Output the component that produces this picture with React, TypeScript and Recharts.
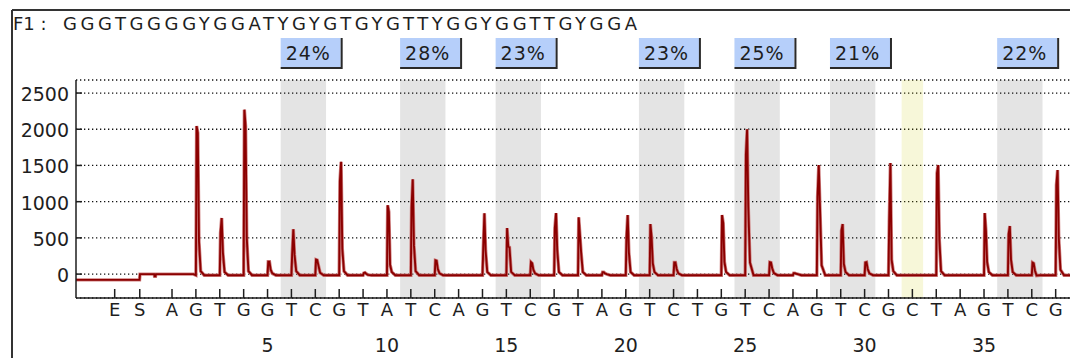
import React from "react";
import { ComposedChart, Line, XAxis, YAxis, CartesianGrid, ReferenceArea } from "recharts";

// ---------- data ----------
const titlePrefix = "F1 : ";
const sequence = "GGGTGGGGYGGATYGYGTGYGTTYGGYGGTTGYGGA";

const dispLetters = [
  "E", "S",
  "A", "G", "T", "G", "G", "T", "C", "G", "T", "A",
  "T", "C", "A", "G", "T", "C", "G", "T", "A", "G",
  "T", "C", "T", "G", "T", "C", "A", "G", "T", "C",
  "G", "C", "T", "A", "G", "T", "C", "G",
];
const dispTimes = [
  -1.4, -0.35,
  1, 2, 3, 4, 5, 6, 7, 8, 9, 10,
  11, 12, 13, 14, 15, 16, 17, 18, 19, 20,
  21, 22, 23, 24, 25, 26, 27, 28, 29, 30,
  31, 32, 33, 34, 35, 36, 37, 38,
];
const numberTicks = [5, 10, 15, 20, 25, 30, 35];
const yTicks = [0, 500, 1000, 1500, 2000, 2500];

const bandStart = [6, 11, 15, 21, 25, 29, 36];
const bandEnd = [7, 12, 16, 22, 26, 30, 37];
const bandPct = ["24%", "28%", "23%", "23%", "25%", "21%", "22%"];
const highlightDisp = [32];

// peaks: dispensation, then signal samples (rise, top, fall, tail)
const peakDisp = [2, 3, 4, 5, 6, 7, 8, 9, 10, 11, 12, 14, 15, 16, 17, 18, 19, 20, 21, 22, 24, 25, 26, 27, 28, 29, 30, 31, 33, 35, 36, 37, 38];
const peakRise = [2044, 570, 2270, 170, 265, 200, 1280, 15, 950, 915, 190, 330, 635, 166, 635, 785, 25, 500, 690, 160, 815, 1645, 165, 12, 1065, 600, 160, 720, 1395, 842, 552, 160, 1230];
const peakTop = [1950, 775, 2045, 170, 620, 195, 1550, 20, 860, 1310, 185, 840, 380, 150, 842, 540, 25, 815, 510, 160, 705, 2000, 160, 12, 1505, 690, 165, 1533, 1505, 600, 663, 150, 1436];
const peakFall = [450, 300, 500, 60, 265, 120, 350, 5, 130, 400, 70, 330, 370, 60, 330, 300, 10, 300, 150, 70, 170, 925, 80, 5, 925, 140, 70, 200, 470, 166, 200, 50, 500];
const peakTail = [40, 30, 40, 10, 40, 20, 40, -10, 30, 40, 10, 30, 30, 10, 30, 30, 0, 30, 30, 10, 30, 160, 15, 0, 120, 30, 10, 40, 40, 30, 30, -20, 60];
const baseline = -15;
const preBaseline = -80;

// ---------- build trace table ----------
const trace: { t: number; v: number }[] = [
  { t: -3.02, v: preBaseline },
  { t: -0.36, v: preBaseline },
  { t: -0.34, v: 0 },
  { t: 0.25, v: 0 },
  { t: 0.27, v: -30 },
  { t: 0.31, v: -30 },
  { t: 0.33, v: 0 },
  { t: 1.9, v: 0 },
];
peakDisp.forEach((n, i) => {
  trace.push({ t: n, v: baseline });
  trace.push({ t: n + 0.03, v: peakRise[i] });
  trace.push({ t: n + 0.08, v: peakTop[i] });
  trace.push({ t: n + 0.13, v: peakFall[i] });
  trace.push({ t: n + 0.2, v: peakTail[i] });
  trace.push({ t: n + 0.35, v: baseline });
});
trace.push({ t: 38.6, v: baseline });

const FONT = "'DejaVu Sans', Verdana, sans-serif";
const INK = "#1e1e1e";

const YTick = (props: any) => {
  const { x, y, payload } = props;
  return (
    <g>
      <line x1={x} x2={x + 6} y1={y} y2={y} stroke={INK} strokeWidth={1.5} />
      <text x={x - 7} y={y + 1} dy="0.36em" textAnchor="end" fontFamily={FONT} fontSize={19} fill={INK}>
        {payload.value}
      </text>
    </g>
  );
};

const XTick = (props: any) => {
  const { x, y, payload } = props;
  const idx = dispTimes.indexOf(payload.value);
  const letter = idx >= 0 ? dispLetters[idx] : "";
  const showNum = numberTicks.includes(payload.value);
  return (
    <g>
      <line x1={x} x2={x} y1={y} y2={y - 9} stroke={INK} strokeWidth={1.5} />
      <text x={x} y={y + 12} dy="0.36em" textAnchor="middle" fontFamily={FONT} fontSize={18} fill={INK}>
        {letter}
      </text>
      {showNum && (
        <text x={x} y={y + 47} dy="0.36em" textAnchor="middle" fontFamily={FONT} fontSize={19} fill={INK}>
          {payload.value}
        </text>
      )}
    </g>
  );
};

const PctBox = (props: any) => {
  const vb = props.viewBox || {};
  const x = vb.x;
  const top = vb.y - 42;
  return (
    <g>
      <rect x={x} y={top} width={60} height={29} fill="#b6cffa" />
      <polyline
        points={`${x + 61},${top} ${x + 61},${top + 30} ${x},${top + 30}`}
        fill="none"
        stroke="#2a2a2a"
        strokeWidth={2}
      />
      <text x={x + 5} y={top + 22} fontFamily={FONT} fontSize={19} fill={INK} letterSpacing={1}>
        {props.text}
      </text>
    </g>
  );
};

export default function App() {
  return (
    <div style={{ position: "absolute", left: 0, top: 0, width: 1070, height: 358, background: "#fff", overflow: "hidden" }}>
      <svg width={1070} height={358} style={{ position: "absolute", left: 0, top: 0 }}>
        <line x1={12} x2={1070} y1={10} y2={10} stroke="#333" strokeWidth={2} />
        <line x1={12} x2={12} y1={10} y2={358} stroke="#333" strokeWidth={2} />
        <text x={13} y={30} fontFamily={FONT} fontSize={18} fill={INK} xmlSpace="preserve">
          {titlePrefix}
        </text>
        <text x={63} y={30} fontFamily={FONT} fontSize={18} fill={INK} textLength={574} lengthAdjust="spacing">
          {sequence}
        </text>
      </svg>
      <div style={{ position: "absolute", left: 0, top: 0 }}>
        <ComposedChart width={1070} height={358} data={trace} margin={{ top: 80, right: 0, left: 0, bottom: 0 }}>
          <CartesianGrid horizontal vertical={false} stroke="#111" strokeWidth={1.3} strokeDasharray="1.3 2.7" />
          {bandStart.map((s, i) => (
            <ReferenceArea
              key={"band" + i}
              x1={s - 0.45}
              x2={bandEnd[i] + 0.45}
              y1={-330}
              y2={2680}
              fill="#000"
              fillOpacity={0.105}
              stroke="none"
              label={(p: any) => <PctBox viewBox={p.viewBox} text={bandPct[i]} />}
            />
          ))}
          {highlightDisp.map((d, i) => (
            <ReferenceArea
              key={"hl" + i}
              x1={d - 0.45}
              x2={d + 0.45}
              y1={-330}
              y2={2680}
              fill="#c8c800"
              fillOpacity={0.15}
              stroke="none"
            />
          ))}
          <XAxis
            dataKey="t"
            type="number"
            domain={[-3.02, 38.6]}
            allowDataOverflow
            ticks={dispTimes}
            interval={0}
            tickSize={0}
            tickMargin={0}
            tick={<XTick />}
            axisLine={{ stroke: INK, strokeWidth: 1.5 }}
            tickLine={false}
            height={60}
          />
          <YAxis
            type="number"
            domain={[-330, 2680]}
            allowDataOverflow
            ticks={yTicks}
            interval={0}
            tickSize={0}
            tickMargin={0}
            tick={<YTick />}
            axisLine={{ stroke: INK, strokeWidth: 1.5 }}
            tickLine={false}
            width={76}
          />
          <Line dataKey="v" type="linear" stroke="#cf8080" strokeWidth={3.4} dot={false} activeDot={false} isAnimationActive={false} />
          <Line dataKey="v" type="linear" stroke="#8b0000" strokeWidth={1.9} dot={false} activeDot={false} isAnimationActive={false} />
        </ComposedChart>
      </div>
    </div>
  );
}
